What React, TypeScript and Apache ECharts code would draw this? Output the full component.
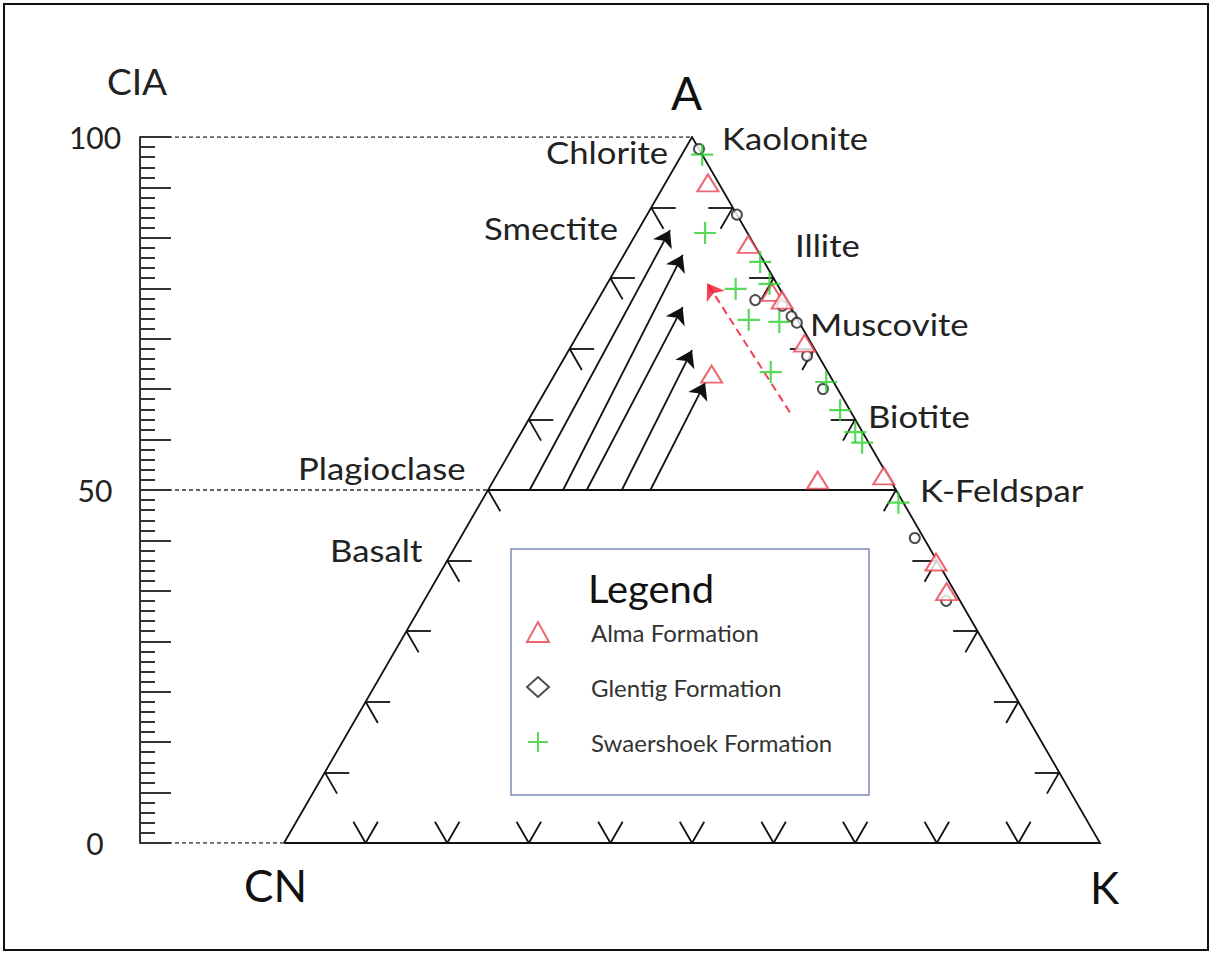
import React, { useEffect, useRef } from "react";
import * as echarts from "echarts";

// ---- data (ternary %: A = Al2O3, CN = CaO*+Na2O, K = K2O) ----
const almaA = [93.5, 84.8, 78.0, 76.9, 70.8, 66.4, 51.4, 52.0, 39.8, 35.6];
const almaCN = [1.3, 0.7, 1.2, 0.5, 0.8, 14.4, 8.9, 0.5, 0.2, 1.0];
const almaK = [5.2, 14.5, 20.8, 22.6, 28.4, 19.2, 39.7, 47.5, 60.0, 63.4];

const glentigA = [98.3, 89.0, 76.9, 76.1, 74.6, 73.7, 69.0, 64.3, 43.2, 34.3];
const glentigCN = [0.0, 0.0, 3.8, 0.9, 0.5, 0.3, 1.4, 1.8, 1.1, 1.7];
const glentigK = [1.7, 11.0, 19.3, 23.0, 24.9, 26.0, 29.6, 33.9, 55.7, 64.0];

const swaA = [97.5, 86.4, 82.3, 78.5, 79.2, 74.1, 73.8, 66.7, 65.3, 61.3, 58.2, 56.7, 48.2];
const swaCN = [0.0, 5.2, 0.5, 5.4, 0.9, 6.0, 2.4, 7.0, 0.9, 1.2, 0.9, 0.8, 0.6];
const swaK = [2.5, 8.4, 17.2, 16.1, 19.9, 19.9, 23.8, 26.3, 33.8, 37.5, 40.9, 42.5, 51.2];

// weathering trend arrows (start at A = 50, end higher up)
const trendFromA = [50, 50, 50, 50, 50];
const trendFromK = [5.1, 9.2, 12.1, 16.4, 19.9];
const trendToA = [86.8, 83.3, 75.9, 69.8, 65.2];
const trendToK = [3.9, 7.2, 10.9, 15.1, 19.0];

// red dashed trend: [from, to]
const redTrendA = [61.0, 79.3];
const redTrendK = [31.5, 12.2];

// edge tick positions (%) and tick segment length (%)
const edgeTicks = [10, 20, 30, 40, 50, 60, 70, 80, 90];
const tickLen = 3;

// CIA scale labels
const ciaLabels = [0, 50, 100];

const seriesNames = ["Alma Formation", "Glentig Formation", "Swaershoek Formation"];

const FONT = "Lato";
const RED = "#e8414f";
const GREEN = "#2fd02f";
const PLUS = "path://M9,0h2v9h9v2h-9v9h-2v-9h-9v-2h9z";
const X_MIN = -17.65;

// ternary (A, CN, K) -> cartesian [x, y] in the chart's own units
function tern(A: number, CN: number, K: number): number[] {
  const s = A + CN + K;
  const a = (A / s) * 100;
  const k = (K / s) * 100;
  return [k + a / 2, a];
}
function tAK(A: number, K: number): number[] {
  return tern(A, 100 - A - K, K);
}

function buildTicks() {
  const segs: any[] = [];
  edgeTicks.forEach((v) => {
    // left edge (K = 0), A = v
    const pL = tAK(v, 0);
    segs.push({ coords: [pL, tAK(v, tickLen)] });
    segs.push({ coords: [pL, tAK(v - tickLen, tickLen)] });
    // right edge (CN = 0), A = v
    const pR = tAK(v, 100 - v);
    segs.push({ coords: [pR, tAK(v, 100 - v - tickLen)] });
    segs.push({ coords: [pR, tAK(v - tickLen, 100 - v)] });
    // bottom edge (A = 0), K = v
    const pB = tAK(0, v);
    segs.push({ coords: [pB, tAK(tickLen, v - tickLen)] });
    segs.push({ coords: [pB, tAK(tickLen, v)] });
  });
  return segs;
}

export default function App() {
  const ref = useRef<HTMLDivElement>(null);

  useEffect(() => {
    if (!ref.current) return;
    const chart = echarts.init(ref.current, undefined, { renderer: "svg" });

    const outline = [{ coords: [tAK(0, 0), tAK(0, 100), tAK(100, 0), tAK(0, 0)] }];
    const plag = [{ coords: [tAK(50, 0), tAK(50, 50)] }];
    const trends = trendFromA.map((a, i) => ({
      coords: [tAK(a, trendFromK[i]), tAK(trendToA[i], trendToK[i])],
    }));
    const redTrend = [{ coords: [tAK(redTrendA[0], redTrendK[0]), tAK(redTrendA[1], redTrendK[1])] }];
    const guides = [
      { coords: [[X_MIN, 100], tAK(100, 0)] },
      { coords: [[X_MIN, 50], tAK(50, 0)] },
      { coords: [[X_MIN, 0], tAK(0, 0)] },
    ];

    const txt = (text: string, x: number, y: number, size: number, extra: any = {}, sx = 1) => ({
      type: "text",
      x,
      y,
      scaleX: sx,
      z: 50,
      style: {
        text,
        fontSize: size,
        fontFamily: FONT,
        fill: "#222",
        textAlign: "left",
        textVerticalAlign: "middle",
        ...extra,
      },
    });
    const lab = (text: string, x: number, y: number) => txt(text, x, y, 31, {}, 1.12);

    const option: any = {
      animation: false,
      backgroundColor: "#fff",
      grid: { left: 140, right: 112, top: 137, bottom: 113 },
      xAxis: { type: "value", min: X_MIN, max: 100, show: false },
      yAxis: [
        {
          type: "value",
          min: 0,
          max: 100,
          interval: 50,
          position: "left",
          axisLine: { show: false },
          axisTick: { show: false },
          splitLine: { show: false },
          axisLabel: {
            show: true,
            fontSize: 30,
            fontFamily: FONT,
            color: "#222",
            align: "center",
            margin: 45,
            formatter: (v: number) => (ciaLabels.includes(v) ? String(v) : ""),
          },
        },
        {
          type: "value",
          min: 0,
          max: 70,
          interval: 5,
          position: "left",
          axisLine: { show: true, lineStyle: { color: "#333", width: 2 } },
          axisTick: { show: true, inside: true, length: 31, lineStyle: { color: "#333", width: 2 } },
          minorTick: { show: true, splitNumber: 5, length: 15, lineStyle: { color: "#333", width: 2 } },
          splitLine: { show: false },
          axisLabel: { show: false },
        },
      ],
      legend: {
        orient: "vertical",
        left: 526,
        top: 620,
        padding: 0,
        itemWidth: 22,
        itemHeight: 20,
        itemGap: 31,
        selectedMode: false,
        textStyle: { fontSize: 24, fontFamily: FONT, color: "#333", padding: [0, 0, 0, 37] },
        data: [
          { name: seriesNames[0], icon: "emptyTriangle" },
          { name: seriesNames[1], icon: "emptyDiamond", itemStyle: { borderWidth: 2 } },
          { name: seriesNames[2], icon: PLUS },
        ],
      },
      series: [
        {
          type: "lines",
          coordinateSystem: "cartesian2d",
          polyline: true,
          silent: true,
          lineStyle: { color: "#111", width: 1.8, opacity: 1 },
          data: outline,
          z: 2,
        },
        {
          type: "lines",
          coordinateSystem: "cartesian2d",
          silent: true,
          lineStyle: { color: "#111", width: 1.8, opacity: 1 },
          data: plag.concat(buildTicks()),
          z: 2,
        },
        {
          type: "lines",
          coordinateSystem: "cartesian2d",
          silent: true,
          lineStyle: { color: "#333", width: 1.6, type: [4, 3], opacity: 1 },
          data: guides,
          z: 2,
        },
        {
          type: "lines",
          coordinateSystem: "cartesian2d",
          silent: true,
          symbol: ["none", "arrow"],
          symbolSize: 16,
          lineStyle: { color: "#111", width: 1.8, opacity: 1 },
          data: trends,
          z: 3,
        },
        {
          type: "lines",
          coordinateSystem: "cartesian2d",
          silent: true,
          symbol: ["none", "arrow"],
          symbolSize: 16,
          lineStyle: { color: "#f0112a", width: 2, type: [8, 5], opacity: 0.8 },
          data: redTrend,
          z: 3,
        },
        {
          name: seriesNames[1],
          type: "scatter",
          symbol: "emptyCircle",
          symbolSize: 10,
          itemStyle: { color: "#222", borderColor: "#222", borderWidth: 1.5 },
          data: glentigA.map((a, i) => tern(a, glentigCN[i], glentigK[i])),
          z: 4,
        },
        {
          name: seriesNames[0],
          type: "scatter",
          symbol: "emptyTriangle",
          symbolSize: [21, 17],
          itemStyle: { color: RED, borderColor: RED, borderWidth: 2 },
          data: almaA.map((a, i) => tern(a, almaCN[i], almaK[i])),
          z: 5,
        },
        {
          name: seriesNames[2],
          type: "scatter",
          symbol: PLUS,
          symbolSize: 22,
          itemStyle: { color: GREEN },
          data: swaA.map((a, i) => tern(a, swaCN[i], swaK[i])),
          z: 6,
        },
      ],
      graphic: [
        {
          type: "rect",
          shape: { x: 4, y: 4, width: 1204, height: 946 },
          style: { fill: "none", stroke: "#111", lineWidth: 2 },
          z: 0,
          silent: true,
        },
        {
          type: "rect",
          shape: { x: 511, y: 549, width: 358, height: 246 },
          style: { fill: "#fff", stroke: "#7d8cb5", lineWidth: 1.5 },
          z: 1,
          silent: true,
        },
        txt("Legend", 588, 588, 38, { fill: "#111" }, 1.05),
        txt("CIA", 107, 80, 37),
        txt("A", 671, 92, 46, { fill: "#111" }),
        txt("CN", 244, 885, 44, { fill: "#111" }),
        txt("K", 1090, 887, 44, { fill: "#111" }),
        lab("Chlorite", 546, 152),
        lab("Kaolonite", 722, 138),
        lab("Smectite", 484, 228),
        lab("Illite", 795, 245),
        lab("Muscovite", 810, 324),
        lab("Biotite", 868, 416),
        lab("Plagioclase", 298, 468),
        lab("K-Feldspar", 920, 490),
        lab("Basalt", 330, 550),
      ],
    };

    chart.setOption(option);
    return () => chart.dispose();
  }, []);

  return (
    <div
      ref={ref}
      style={{ position: "fixed", left: 0, top: 0, width: 1212, height: 956 }}
    />
  );
}
